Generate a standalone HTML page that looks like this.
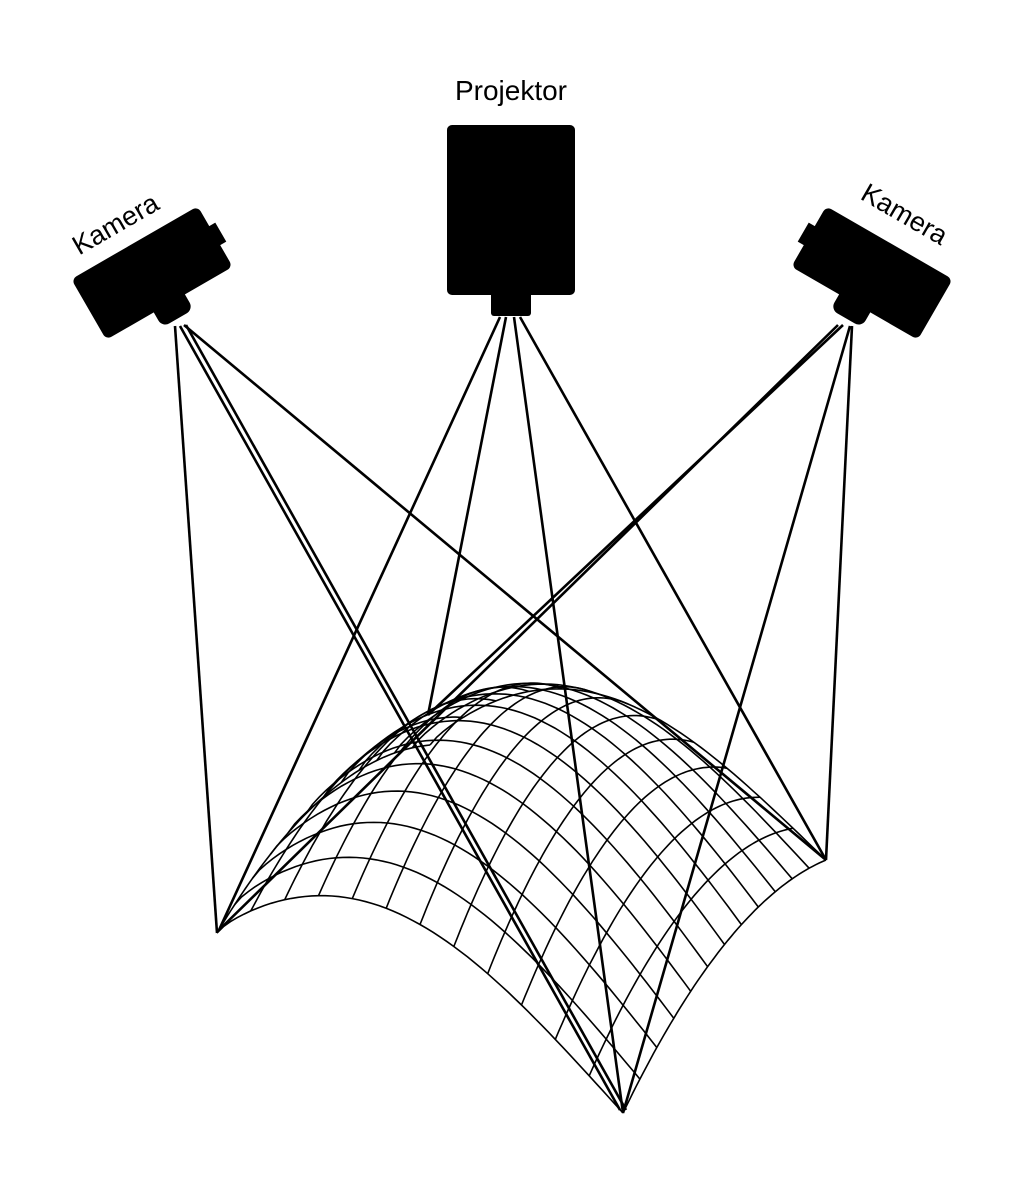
<!DOCTYPE html>
<html><head><meta charset="utf-8"><style>
html,body{margin:0;padding:0;background:#fff;width:1024px;height:1200px;overflow:hidden}
svg{display:block}
text{font-family:"Liberation Sans",sans-serif;fill:#000}
</style></head><body>
<svg id="s" width="1024" height="1200" viewBox="0 0 1024 1200" xmlns="http://www.w3.org/2000/svg">
<rect width="1024" height="1200" fill="#fff"/>
<text x="511" y="100" font-size="28" text-anchor="middle">Projektor</text>
<text transform="translate(120,232) rotate(-30)" font-size="27" text-anchor="middle">Kamera</text>
<text transform="translate(900,222) rotate(30)" font-size="27" text-anchor="middle">Kamera</text>
<rect x="447" y="125" width="128" height="170" rx="5" fill="#000"/>
<rect x="491" y="290" width="40" height="26" rx="3" fill="#000"/>
<g transform="translate(152,273) rotate(-30)">
<rect x="-73" y="-35" width="146" height="70" rx="6" fill="#000"/>
<rect x="58" y="-12" width="22" height="22" fill="#000"/>
</g>
<g transform="translate(172,308) rotate(-30)">
<rect x="-18" y="-20" width="36" height="32" rx="8" fill="#000"/>
</g>
<g transform="translate(872,273) rotate(30)">
<rect x="-73" y="-35" width="146" height="70" rx="6" fill="#000"/>
<rect x="-80" y="-12" width="22" height="22" fill="#000"/>
</g>
<g transform="translate(852,308) rotate(30)">
<rect x="-18" y="-20" width="36" height="32" rx="8" fill="#000"/>
</g>
<g id="mesh" fill="none" stroke="#000" stroke-width="1.6"></g>
<g id="rays" stroke="#000" stroke-width="2.6"></g>
</svg>
<script>
var A=[217,933],B=[623,1113],C=[826,860],D=[430,745];
function s(t){return 4*t*(1-t);}
function a(t){return Math.sin(Math.PI*Math.pow(t,0.85));}
function P(u,v){
 var x=(1-u)*(1-v)*A[0]+u*(1-v)*B[0]+u*v*C[0]+(1-u)*v*D[0];
 var y=(1-u)*(1-v)*A[1]+u*(1-v)*B[1]+u*v*C[1]+(1-u)*v*D[1];
 y-=100*a(u)+42*s(v)+35*s(u)*s(v);
 return [x,y];
}
var g=document.getElementById('mesh'),out='',N=12,M=60;
for(var i=0;i<=N;i++){
 var t=i/N,d1='',d2='';
 for(var k=0;k<=M;k++){
  var r=k/M,p=P(t,r),q=P(r,t);
  d1+=(k?'L':'M')+p[0].toFixed(1)+' '+p[1].toFixed(1);
  d2+=(k?'L':'M')+q[0].toFixed(1)+' '+q[1].toFixed(1);
 }
 out+='<path d="'+d1+'"/><path d="'+d2+'"/>';
}
g.innerHTML=out;
var rays=[
 [175,326,217,933],[180,326,620,1110],[186,325,626,1110],[184,325,826,860],
 [500,317,219,930],[506,317,428,715],[514,317,623,1113],[520,317,826,860],
 [838,325,219,930],[843,325,428,715],[850,326,623,1113],[852,326,826,860]
];
var h='';rays.forEach(function(r){h+='<line x1="'+r[0]+'" y1="'+r[1]+'" x2="'+r[2]+'" y2="'+r[3]+'"/>';});
document.getElementById('rays').innerHTML=h;
</script>
</body></html>
